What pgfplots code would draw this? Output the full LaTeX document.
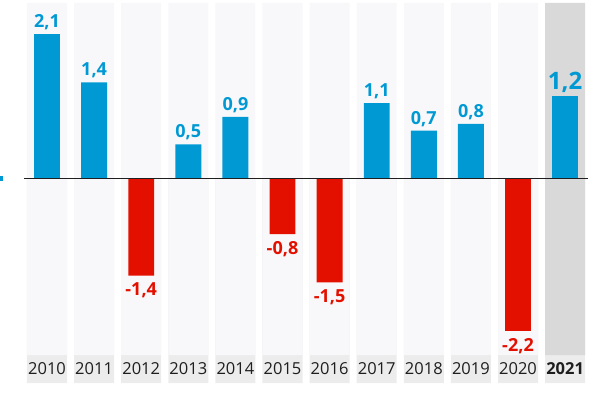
\documentclass[border=0pt]{standalone}
\usepackage{fontspec}
\setmainfont{Open Sans}
\usepackage{pgfplots}
\pgfplotsset{compat=1.18}
\definecolor{barblue}{RGB}{0,153,212}
\definecolor{barred}{RGB}{227,16,0}
\definecolor{stripe}{RGB}{248,248,250}
\definecolor{labbox}{RGB}{236,236,237}
\definecolor{hl}{RGB}{217,217,217}
\definecolor{txt}{RGB}{30,30,30}
\begin{document}
\begin{tikzpicture}
\begin{axis}[
 scale only axis, width=610pt, height=396pt,
 xmin=-0.998, xmax=11.953, ymin=-3.145, ymax=2.594,
 hide axis, clip=false,
 ybar, bar shift=0pt,
 /pgf/number format/use comma,
 /pgf/number format/fixed,
 /pgf/number format/fixed zerofill,
 /pgf/number format/precision=1,
 /pgf/number format/assume math mode=true,
]
% background stripes (label boxes first, then stripes on top)
\addplot[fill=labbox, draw=none, bar width=0.85] coordinates {(0,-2.957)(1,-2.957)(2,-2.957)(3,-2.957)(4,-2.957)(5,-2.957)(6,-2.957)(7,-2.957)(8,-2.957)(9,-2.957)(10,-2.957)(11,-2.957)};
\addplot[fill=stripe, draw=none, bar width=0.85] coordinates {(0,-2.551)(1,-2.551)(2,-2.551)(3,-2.551)(4,-2.551)(5,-2.551)(6,-2.551)(7,-2.551)(8,-2.551)(9,-2.551)(10,-2.551)};
\addplot[fill=stripe, draw=none, bar width=0.85] coordinates {(0,2.551)(1,2.551)(2,2.551)(3,2.551)(4,2.551)(5,2.551)(6,2.551)(7,2.551)(8,2.551)(9,2.551)(10,2.551)};
\addplot[fill=hl, draw=none, bar width=0.85] coordinates {(11,-2.551)(11,2.551)};
% data
\addplot[fill=barblue, draw=none, bar width=0.55,
  nodes near coords, nodes near coords style={font=\fontsize{18}{20}\selectfont\bfseries, text=barblue, inner sep=4pt}]
  coordinates {(0,2.1)(1,1.4)(3,0.5)(4,0.9)(7,1.1)(8,0.7)(9,0.8)};
\addplot[fill=barred, draw=none, bar width=0.55,
  nodes near coords, nodes near coords style={font=\fontsize{18}{20}\selectfont\bfseries, text=barred, inner sep=7pt}]
  coordinates {(2,-1.4)(5,-0.8)(6,-1.5)(10,-2.2)};
\addplot[fill=barblue, draw=none, bar width=0.55,
  nodes near coords, nodes near coords style={font=\fontsize{24}{26}\selectfont\bfseries, text=barblue, inner sep=3pt}]
  coordinates {(11,1.2)};
\draw[txt, line width=1pt] (axis cs:-0.488,0) -- (axis cs:11.486,0);
\fill[barblue] (axis cs:-0.998,0.043) rectangle (axis cs:-0.934,-0.029);
\path (rel axis cs:0,0) rectangle (rel axis cs:1,1);
% year labels
\tikzset{yr/.style={font=\fontsize{16.5}{18}\selectfont, text=txt, anchor=center}}
\node[yr] at (axis cs:0,-2.754) {2010};
\node[yr] at (axis cs:1,-2.754) {2011};
\node[yr] at (axis cs:2,-2.754) {2012};
\node[yr] at (axis cs:3,-2.754) {2013};
\node[yr] at (axis cs:4,-2.754) {2014};
\node[yr] at (axis cs:5,-2.754) {2015};
\node[yr] at (axis cs:6,-2.754) {2016};
\node[yr] at (axis cs:7,-2.754) {2017};
\node[yr] at (axis cs:8,-2.754) {2018};
\node[yr] at (axis cs:9,-2.754) {2019};
\node[yr] at (axis cs:10,-2.754) {2020};
\node[yr, font=\fontsize{16.5}{18}\selectfont\bfseries] at (axis cs:11,-2.754) {2021};
\end{axis}
\end{tikzpicture}
\end{document}
